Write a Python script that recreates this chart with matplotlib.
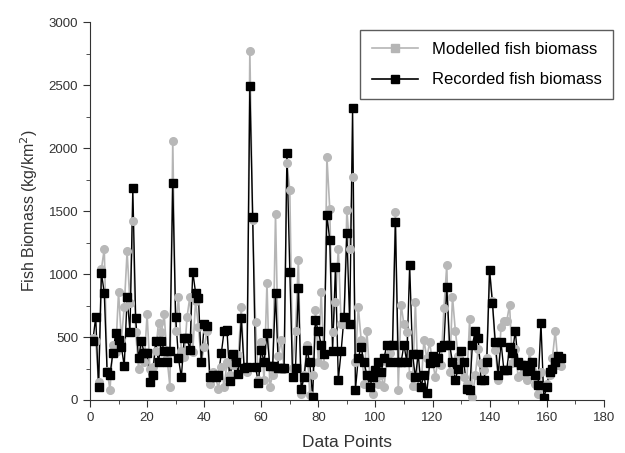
import matplotlib
matplotlib.use("Agg")
import matplotlib.pyplot as plt
from matplotlib.ticker import MultipleLocator
from matplotlib.lines import Line2D

plt.rcParams['font.family'] = ['Liberation Sans', 'DejaVu Sans']

# data point index
points = list(range(1, 166))

# modelled fish biomass (kg/km2)
modelled = [490, 470, 140, 1040, 1200, 230, 80, 440, 380, 860,
            480, 740, 1180, 770, 1420, 540, 250, 470, 300, 680,
            250, 260, 390, 610, 540, 680, 330, 105, 2060, 550,
            820, 390, 340, 660, 820, 380, 790, 580, 300, 420,
            550, 130, 225, 180, 90, 260, 105, 300, 200, 275,
            350, 360, 740, 260, 225, 2770, 1430, 620, 160, 460,
            160, 930, 105, 200, 1480, 350, 475, 250, 1880, 1670,
            255, 550, 1110, 50, 200, 440, 40, 200, 715, 300,
            860, 280, 1930, 1520, 540, 780, 1200, 600, 600, 1510,
            1200, 1770, 305, 740, 480, 130, 550, 200, 50, 240,
            130, 200, 105, 305, 370, 440, 1495, 80, 755, 600,
            540, 200, 115, 780, 105, 105, 480, 330, 460, 300,
            185, 330, 280, 730, 1070, 225, 820, 550, 350, 290,
            185, 130, 640, 25, 200, 405, 290, 240, 330, 1030,
            790, 395, 160, 580, 625, 625, 755, 290, 405, 185,
            200, 250, 160, 390, 240, 130, 50, 225, 100, 130,
            200, 330, 550, 280, 270]

# recorded fish biomass (kg/km2)
recorded = [470, 660, 100, 1010, 850, 220, 200, 370, 530, 480,
            420, 270, 820, 540, 1680, 650, 330, 470, 370, 370,
            140, 200, 470, 300, 470, 390, 300, 390, 1720, 660,
            330, 180, 490, 490, 400, 1020, 850, 810, 300, 600,
            590, 185, 200, 185, 200, 370, 550, 555, 150, 365,
            305, 210, 650, 255, 260, 2490, 1450, 260, 135, 400,
            300, 530, 270, 270, 850, 255, 255, 255, 1960, 1020,
            180, 255, 890, 90, 180, 400, 300, 25, 635, 545,
            440, 365, 1470, 1270, 390, 1060, 160, 390, 660, 1330,
            600, 2320, 80, 335, 420, 300, 200, 105, 180, 240,
            300, 225, 330, 440, 300, 440, 1415, 305, 300, 440,
            300, 1070, 365, 180, 365, 105, 200, 55, 290, 350,
            300, 330, 420, 440, 900, 440, 300, 160, 250, 390,
            300, 90, 80, 440, 550, 490, 160, 160, 300, 1030,
            770, 460, 200, 460, 240, 240, 420, 370, 550, 300,
            275, 275, 230, 250, 305, 200, 120, 610, 15, 100,
            225, 250, 300, 350, 330]

fig = plt.figure(figsize=(6.25, 4.53), dpi=100)
ax = fig.add_axes([0.144, 0.117, 0.822, 0.834])

# lines first, then markers on top (gray dots, then black squares)
ax.plot(points, modelled, color='#b5b5b5', lw=1.2, zorder=2)
ax.plot(points, recorded, color='black', lw=1.0, zorder=2.1)
ax.plot(points, modelled, ls='none', marker='o', ms=5.5,
        mfc='#b8b8b8', mec='#b8b8b8', zorder=3)
ax.plot(points, recorded, ls='none', marker='s', ms=5.2,
        mfc='black', mec='black', zorder=3.1)

ax.set_xlim(0, 180)
ax.set_ylim(0, 3000)
ax.xaxis.set_major_locator(MultipleLocator(20))
ax.xaxis.set_minor_locator(MultipleLocator(10))
ax.yaxis.set_major_locator(MultipleLocator(500))
ax.yaxis.set_minor_locator(MultipleLocator(250))
ax.tick_params(which='both', direction='out', colors='#333333', labelsize=9.5)
ax.tick_params(which='major', length=5)
ax.tick_params(which='minor', length=3)

for side in ['top', 'right']:
    ax.spines[side].set_visible(False)
for side in ['left', 'bottom']:
    ax.spines[side].set_color('#333333')

ax.set_xlabel('Data Points', fontsize=12.5, color='#333333', labelpad=8)
ax.set_ylabel('Fish Biomass (kg/km$^2$)', fontsize=11.5, color='#333333', labelpad=6)

# legend uses square markers for both series
handles = [Line2D([], [], color='#b5b5b5', lw=1.2, marker='s', ms=6, mfc='#b5b5b5', mec='#b5b5b5'),
           Line2D([], [], color='black', lw=1.2, marker='s', ms=6, mfc='black', mec='black')]
leg = ax.legend(handles, ['Modelled fish biomass', 'Recorded fish biomass'],
                loc='upper right', bbox_to_anchor=(0.981, 0.934),
                bbox_transform=fig.transFigure, borderaxespad=0,
                fontsize=12, frameon=True, fancybox=False, edgecolor='#333333',
                labelspacing=0.95, handlelength=2.8, borderpad=0.7)
leg.get_frame().set_linewidth(1.0)
leg.set_zorder(5)

fig.savefig('out.png', dpi=100)
